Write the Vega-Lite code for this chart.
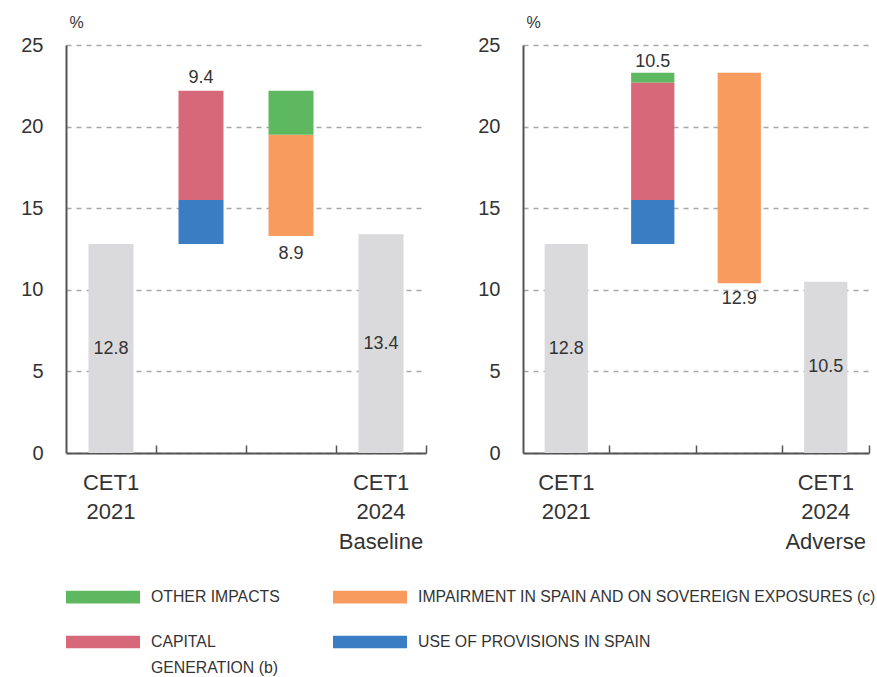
{
  "$schema": "https://vega.github.io/schema/vega-lite/v6.json",
  "background": "white",
  "padding": {"left": 20, "top": 14, "right": 4, "bottom": 4},
  "spacing": 50,
  "config": {
    "font": "Liberation Sans",
    "view": {"stroke": null},
    "axisY": {
      "domain": true,
      "domainColor": "#555555",
      "domainWidth": 2,
      "ticks": false,
      "grid": true,
      "gridColor": "#a8a8a8",
      "gridDash": [5, 5],
      "gridWidth": 1.3,
      "labelFontSize": 20,
      "labelColor": "#333333",
      "labelPadding": 23,
      "tickCount": 5,
      "titleAngle": 0,
      "titleFontSize": 16,
      "titleFontWeight": "normal",
      "titleColor": "#333333",
      "titleX": 10,
      "titleY": -23,
      "titleAlign": "center",
      "titleBaseline": "middle"
    },
    "axisX": {
      "domainColor": "#555555",
      "domainWidth": 2,
      "tickColor": "#555555",
      "tickSize": -8,
      "tickWidth": 1.5,
      "bandPosition": 1,
      "labelAngle": 0,
      "labelFontSize": 22,
      "labelColor": "#333333",
      "labelLineHeight": 29.5,
      "labelPadding": 27,
      "labelBaseline": "top",
      "grid": false
    },
    "legend": {
      "orient": "bottom",
      "columns": 2,
      "symbolType": "M-1,-0.17H1V0.17H-1Z",
      "symbolSize": 5476,
      "symbolStrokeWidth": 0,
      "labelFont": "Liberation Sans",
      "labelFontSize": 15.8,
      "labelColor": "#333333",
      "labelLimit": 700,
      "labelOffset": 11,
      "columnPadding": 53,
      "rowPadding": -12,
      "offset": 8
    },
    "text": {"fontSize": 18, "color": "#333333"}
  },
  "datasets": {
    "bars": [
      {"panel": "Baseline", "bar": "CET1 2021", "series": "CET1", "lo": 0, "hi": 12.8},
      {"panel": "Baseline", "bar": "Increase", "series": "USE OF PROVISIONS IN SPAIN", "lo": 12.8, "hi": 15.5},
      {"panel": "Baseline", "bar": "Increase", "series": "CAPITAL GENERATION (b)", "lo": 15.5, "hi": 22.2},
      {"panel": "Baseline", "bar": "Decrease", "series": "IMPAIRMENT IN SPAIN AND ON SOVEREIGN EXPOSURES (c)", "lo": 13.3, "hi": 19.5},
      {"panel": "Baseline", "bar": "Decrease", "series": "OTHER IMPACTS", "lo": 19.5, "hi": 22.2},
      {"panel": "Baseline", "bar": "CET1 2024 Baseline", "series": "CET1", "lo": 0, "hi": 13.4},
      {"panel": "Adverse", "bar": "CET1 2021", "series": "CET1", "lo": 0, "hi": 12.8},
      {"panel": "Adverse", "bar": "Increase", "series": "USE OF PROVISIONS IN SPAIN", "lo": 12.8, "hi": 15.5},
      {"panel": "Adverse", "bar": "Increase", "series": "CAPITAL GENERATION (b)", "lo": 15.5, "hi": 22.7},
      {"panel": "Adverse", "bar": "Increase", "series": "OTHER IMPACTS", "lo": 22.7, "hi": 23.3},
      {"panel": "Adverse", "bar": "Decrease", "series": "IMPAIRMENT IN SPAIN AND ON SOVEREIGN EXPOSURES (c)", "lo": 10.4, "hi": 23.3},
      {"panel": "Adverse", "bar": "CET1 2024 Adverse", "series": "CET1", "lo": 0, "hi": 10.5}
    ],
    "labels": [
      {"panel": "Baseline", "bar": "CET1 2021", "kind": "total", "value": 12.8, "at": 12.8},
      {"panel": "Baseline", "bar": "Increase", "kind": "up", "value": 9.4, "at": 22.2},
      {"panel": "Baseline", "bar": "Decrease", "kind": "down", "value": 8.9, "at": 13.3},
      {"panel": "Baseline", "bar": "CET1 2024 Baseline", "kind": "total", "value": 13.4, "at": 13.4},
      {"panel": "Adverse", "bar": "CET1 2021", "kind": "total", "value": 12.8, "at": 12.8},
      {"panel": "Adverse", "bar": "Increase", "kind": "up", "value": 10.5, "at": 23.3},
      {"panel": "Adverse", "bar": "Decrease", "kind": "down", "value": 12.9, "at": 10.4},
      {"panel": "Adverse", "bar": "CET1 2024 Adverse", "kind": "total", "value": 10.5, "at": 10.5}
    ]
  },
  "hconcat": [
    {
      "width": 360,
      "height": 408,
      "encoding": {
        "x": {
          "field": "bar",
          "type": "nominal",
          "sort": ["CET1 2021", "Increase", "Decrease", "CET1 2024 Baseline"],
          "scale": {"paddingInner": 0, "paddingOuter": 0},
          "axis": {"title": null, "labelExpr": "indexof(datum.label, 'CET1') == 0 ? split(datum.label, ' ') : ''"}
        }
      },
      "layer": [
        {
          "data": {"name": "bars"},
          "transform": [{"filter": "datum.panel == 'Baseline' && datum.series == 'CET1'"}],
          "mark": {"type": "bar", "width": {"band": 0.5}, "color": "#dadadc"},
          "encoding": {
            "y": {"field": "lo", "type": "quantitative", "scale": {"domain": [0, 25], "nice": false}, "axis": {"title": "%"}},
            "y2": {"field": "hi"}
          }
        },
        {
          "data": {"name": "bars"},
          "transform": [{"filter": "datum.panel == 'Baseline' && datum.series != 'CET1'"}],
          "mark": {"type": "bar", "width": {"band": 0.5}},
          "encoding": {
            "y": {"field": "lo", "type": "quantitative"},
            "y2": {"field": "hi"},
            "color": {
              "field": "series",
              "type": "nominal",
              "scale": {
                "domain": ["OTHER IMPACTS", "IMPAIRMENT IN SPAIN AND ON SOVEREIGN EXPOSURES (c)", "CAPITAL GENERATION (b)", "USE OF PROVISIONS IN SPAIN"],
                "range": ["#5eb860", "#f79b5f", "#d6687a", "#3b7dc3"]
              },
              "legend": {
                "title": null,
                "labelExpr": "datum.label == 'CAPITAL GENERATION (b)' ? ['CAPITAL', 'GENERATION (b)'] : datum.label",
                "encode": {"labels": {"update": {"lineHeight": {"value": 26}}}}
              }
            }
          }
        },
        {
          "data": {"name": "labels"},
          "transform": [{"filter": "datum.panel == 'Baseline' && datum.kind == 'total'"}, {"calculate": "datum.at / 2", "as": "mid"}],
          "mark": {"type": "text", "baseline": "middle"},
          "encoding": {
            "y": {"field": "mid", "type": "quantitative"},
            "text": {"field": "value", "type": "quantitative", "format": ".1f"}
          }
        },
        {
          "data": {"name": "labels"},
          "transform": [{"filter": "datum.panel == 'Baseline' && datum.kind == 'up'"}],
          "mark": {"type": "text", "baseline": "bottom", "dy": -4},
          "encoding": {
            "y": {"field": "at", "type": "quantitative"},
            "text": {"field": "value", "type": "quantitative", "format": ".1f"}
          }
        },
        {
          "data": {"name": "labels"},
          "transform": [{"filter": "datum.panel == 'Baseline' && datum.kind == 'down'"}],
          "mark": {"type": "text", "baseline": "top", "dy": 9},
          "encoding": {
            "y": {"field": "at", "type": "quantitative"},
            "text": {"field": "value", "type": "quantitative", "format": ".1f"}
          }
        }
      ]
    },
    {
      "width": 346,
      "height": 408,
      "encoding": {
        "x": {
          "field": "bar",
          "type": "nominal",
          "sort": ["CET1 2021", "Increase", "Decrease", "CET1 2024 Adverse"],
          "scale": {"paddingInner": 0, "paddingOuter": 0},
          "axis": {"title": null, "labelExpr": "indexof(datum.label, 'CET1') == 0 ? split(datum.label, ' ') : ''"}
        }
      },
      "layer": [
        {
          "data": {"name": "bars"},
          "transform": [{"filter": "datum.panel == 'Adverse' && datum.series == 'CET1'"}],
          "mark": {"type": "bar", "width": {"band": 0.5}, "color": "#dadadc"},
          "encoding": {
            "y": {"field": "lo", "type": "quantitative", "scale": {"domain": [0, 25], "nice": false}, "axis": {"title": "%"}},
            "y2": {"field": "hi"}
          }
        },
        {
          "data": {"name": "bars"},
          "transform": [{"filter": "datum.panel == 'Adverse' && datum.series != 'CET1'"}],
          "mark": {"type": "bar", "width": {"band": 0.5}},
          "encoding": {
            "y": {"field": "lo", "type": "quantitative"},
            "y2": {"field": "hi"},
            "color": {"field": "series", "type": "nominal"}
          }
        },
        {
          "data": {"name": "labels"},
          "transform": [{"filter": "datum.panel == 'Adverse' && datum.kind == 'total'"}, {"calculate": "datum.at / 2", "as": "mid"}],
          "mark": {"type": "text", "baseline": "middle"},
          "encoding": {
            "y": {"field": "mid", "type": "quantitative"},
            "text": {"field": "value", "type": "quantitative", "format": ".1f"}
          }
        },
        {
          "data": {"name": "labels"},
          "transform": [{"filter": "datum.panel == 'Adverse' && datum.kind == 'up'"}],
          "mark": {"type": "text", "baseline": "bottom", "dy": -2},
          "encoding": {
            "y": {"field": "at", "type": "quantitative"},
            "text": {"field": "value", "type": "quantitative", "format": ".1f"}
          }
        },
        {
          "data": {"name": "labels"},
          "transform": [{"filter": "datum.panel == 'Adverse' && datum.kind == 'down'"}],
          "mark": {"type": "text", "baseline": "top", "dy": 7},
          "encoding": {
            "y": {"field": "at", "type": "quantitative"},
            "text": {"field": "value", "type": "quantitative", "format": ".1f"}
          }
        }
      ]
    }
  ]
}
